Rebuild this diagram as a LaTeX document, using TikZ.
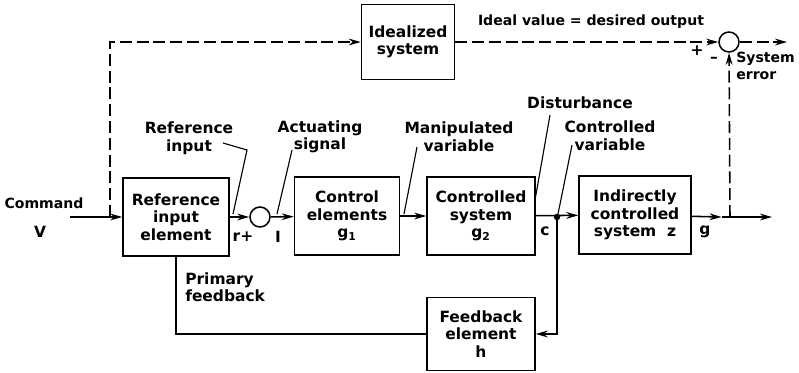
\documentclass[tikz,border=0pt]{standalone}
\usepackage{fontspec}
\setmainfont{DejaVu Sans}
\usetikzlibrary{arrows.meta}

\tikzset{
  blk/.style={draw, line width=1.1pt, align=center, minimum height=19.5mm, inner sep=1pt},
  sumpt/.style={circle, draw, line width=1.1pt, minimum size=5mm, inner sep=0pt},
  sig/.style={line width=1.1pt, -{Stealth[length=3mm,width=1.7mm]}},
  dsig/.style={sig, dash pattern=on 3mm off 1.2mm},
  lbl/.style={align=center, inner sep=0pt},
  small/.style={font=\fontsize{10}{12}\selectfont\bfseries},
  lead/.style={line width=0.8pt},
}

\begin{document}
\begin{tikzpicture}[x=0.25mm,y=-0.25mm,
    every node/.style={font=\fontsize{11}{12.5}\selectfont\bfseries}]
    \useasboundingbox (0,0) rectangle (799,372);

    % blocks of the loop
    \node[blk, minimum width=23.25mm, minimum height=18.75mm] (ideal) at (408,42) {Idealized\\system};
    \node[blk, minimum width=26.5mm] (refin) at (176,217) {Reference\\input\\element};
    \node[sumpt] (sum1) at (260,217) {};
    \node[blk, minimum width=26.25mm] (ctrl) at (347,216) {Control\\elements\\g\textsubscript{1}};
    \node[blk, minimum width=27mm] (plant) at (481,216) {Controlled\\system\\g\textsubscript{2}};
    \node[blk, minimum width=28mm] (indir) at (635,215) {Indirectly\\controlled\\system\ \ z};
    \node[blk, minimum width=27mm, minimum height=18.25mm] (fb) at (481,334) {Feedback\\element\\h};
    \node[sumpt] (sum2) at (729,42) {};

    \coordinate (cmd) at (70,217);
    \coordinate (tap) at (110,217);
    \coordinate (c) at (557,217);
    \coordinate (otap) at (730,217);
    \coordinate (out) at (772,217);
    \coordinate (out2) at (787,42);

    % main forward path
    \draw[sig] (cmd) -- (refin);
    \draw[sig] (refin) -- (sum1);
    \draw[sig] (sum1) -- (ctrl);
    \draw[sig] (ctrl) -- (plant);
    \draw[sig] (plant) -- (indir);
    \fill (c) circle (0.8mm);
    \draw[sig] (indir) -- ([xshift=-6]otap);
    \draw[sig] ([xshift=-6]otap) -- (out);

    % feedback paths
    \draw[sig] (c) |- (fb);
    \draw[line width=1.1pt] (fb) -| (refin);

    % ideal reference branch (dashed)
    \draw[dsig] (tap) |- (ideal);
    \draw[dsig] (ideal) -- (sum2);
    \draw[dsig] (sum2) -- (out2);
    \draw[dsig] (otap) -- (sum2);

    % labels
    \node[lbl, small] (lcmd) at (44,203) {Command};
    \node[lbl] (lv) at (40,232) {V};
    \node[lbl] (lrefin) at (189,138) {Reference\\input};
    \node[lbl] (lact) at (320,137) {Actuating\\signal};
    \node[lbl] (lman) at (459,137) {Manipulated\\variable};
    \node[lbl] (ldist) at (580,103) {Disturbance};
    \node[lbl] (lcv) at (610,136) {Controlled\\variable};
    \node[lbl] (lr) at (243,237) {r+};
    \node[lbl] (li) at (278,237) {I};
    \node[lbl] (lc) at (545,231) {c};
    \node[lbl] (lg) at (705,232) {g};
    \node[lbl, small] (lideal) at (591,22) {Ideal value = desired output};
    \node[lbl] (lplus) at (697,51) {+};
    \node[lbl] (lminus) at (714,60) {\textendash};
    \node[lbl, small, align=left, anchor=north west] (lerr) at (736,52) {System\\error};
    \node[lbl, align=left, anchor=north west] (lprim) at (185,272) {Primary\\feedback};

    % leader lines
    \draw[lead] (223,143) -- (247,150) -- (233,214);
    \draw[lead] (292,150) -- (277,214);
    \draw[lead] (417,147) -- (404,214);
    \draw[lead] (550,115) -- (535,200);
    \draw[lead] (572,145) -- (558,214);
\end{tikzpicture}
\end{document}
